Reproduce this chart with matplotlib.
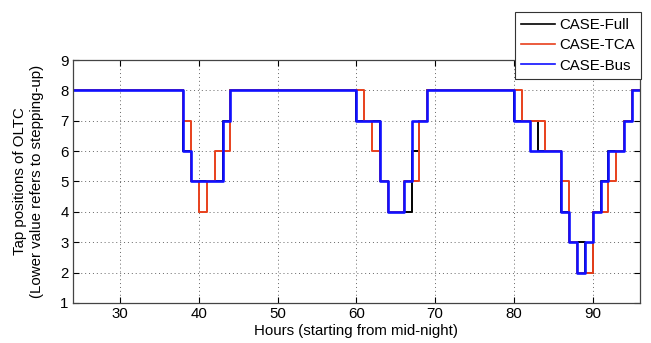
"""Step plot of OLTC tap positions for three cases."""

import matplotlib
matplotlib.use("Agg")
import matplotlib.pyplot as plt

plt.rcParams['font.family'] = ['Liberation Sans', 'DejaVu Sans']

# change points (hour, tap) for each case, drawn as post-steps
full_hours = [24, 38, 39, 43, 44, 60, 63, 64, 67, 68, 69, 80, 83, 86, 87, 89, 90, 91, 92, 94, 95, 96]
full_taps = [8, 6, 5, 7, 8, 7, 5, 4, 6, 7, 8, 7, 6, 4, 3, 2, 4, 5, 6, 7, 8, 8]

tca_hours = [24, 38, 39, 40, 41, 42, 44, 61, 62, 63, 64, 66, 68, 69, 81, 84, 86, 87, 88, 90, 92, 93, 94, 95, 96]
tca_taps = [8, 7, 5, 4, 5, 6, 8, 7, 6, 5, 4, 5, 7, 8, 7, 6, 5, 3, 2, 4, 5, 6, 7, 8, 8]

bus_hours = [24, 38, 39, 43, 44, 60, 63, 64, 66, 67, 69, 80, 82, 86, 87, 88, 89, 90, 91, 92, 94, 95, 96]
bus_taps = [8, 6, 5, 7, 8, 7, 5, 4, 5, 7, 8, 7, 6, 4, 3, 2, 3, 4, 5, 6, 7, 8, 8]

x_ticks = [30, 40, 50, 60, 70, 80, 90]
y_ticks = [1, 2, 3, 4, 5, 6, 7, 8, 9]

fig = plt.figure(figsize=(6.51, 3.43), dpi=100)
ax = fig.add_axes([0.112, 0.117, 0.871, 0.708])

ax.step(full_hours, full_taps, where='post', color='black', lw=1.4, label='CASE-Full')
ax.step(tca_hours, tca_taps, where='post', color='#e8401c', lw=1.4, label='CASE-TCA')
ax.step(bus_hours, bus_taps, where='post', color='#1010ff', lw=1.9, label='CASE-Bus')

ax.set_xlim(24, 96)
ax.set_ylim(1, 9)
ax.set_xticks(x_ticks)
ax.set_yticks(y_ticks)
ax.tick_params(direction='in', length=4, top=True, right=True, labelsize=10.8, width=0.8, pad=3)
ax.grid(True, linestyle=(0, (1, 3)), color='#666666', linewidth=0.7)
for s in ax.spines.values():
    s.set_color('#444444')
    s.set_linewidth(0.9)

ax.set_xlabel('Hours (starting from mid-night)', fontsize=10.8, labelpad=2)
ax.set_ylabel('Tap positions of OLTC\n(Lower value refers to stepping-up)', fontsize=10.8, labelpad=12)

leg = fig.legend(loc='upper right', bbox_to_anchor=(0.985, 0.965), fontsize=10.8,
                 frameon=True, fancybox=False, framealpha=1, edgecolor='#333333',
                 handlelength=2.3, handletextpad=0.3, borderpad=0.4, labelspacing=0.42,
                 borderaxespad=0)
leg.get_frame().set_linewidth(0.8)
for line in leg.get_lines():
    line.set_linewidth(1.2)

fig.savefig('out.png', dpi=100)
